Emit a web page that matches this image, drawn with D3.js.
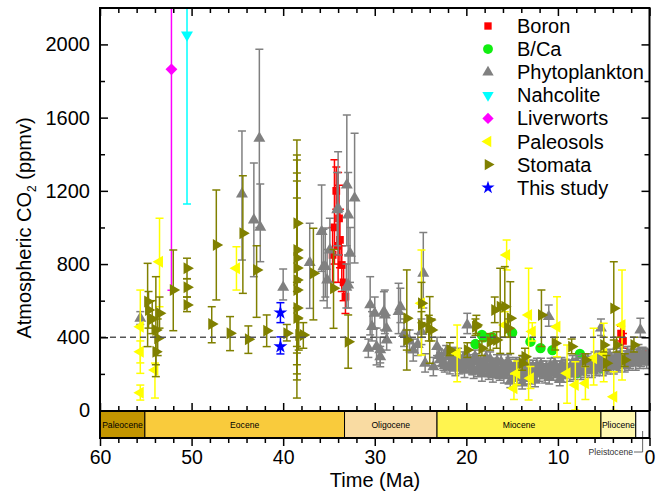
<!DOCTYPE html>
<html>
<head>
<meta charset="utf-8">
<script src="https://cdn.jsdelivr.net/npm/d3@7"></script>
<style>
body{margin:0;background:#fff}
text{font-family:"Liberation Sans",Arial,sans-serif}
</style>
</head>
<body>
<svg id="chart" width="664" height="491"></svg>
<script>
// [age Ma, CO2 ppmv, lower, upper]
const boron = [
  [34.6, 850, 700, 1000], [34.4, 1000, 800, 1370], [34.2, 1200, 1100, 1330],
  [34.0, 900, 700, 1300], [33.9, 1050, 850, 1230], [33.8, 932, 780, 1100],
  [33.6, 795, 650, 900], [33.4, 700, 600, 800], [33.2, 622, 530, 700],
  [3.1, 420, 380, 460], [2.9, 380, 340, 420], [0.7, 305, 285, 325]
]
const bca = [
  [19.0, 363], [18.3, 413], [18.1, 400], [17.2, 400], [15.0, 425], [13.0, 376],
  [11.9, 341], [10.6, 330], [7.9, 205], [7.6, 309], [5.2, 230]
]
const phyto = [
  [55.6, 504, 470, 540], [44.5, 1183, 822, 1527], [43.2, 1041, 731, 1352],
  [42.6, 1487, 1000, 1974], [42.5, 1001, 813, 1238], [40.0, 673, 604, 773],
  [37.1, 808, 558, 1023], [35.8, 977, 760, 1232], [35.6, 786, 600, 990],
  [35.4, 786, 620, 997], [35.2, 713, 560, 880], [34.9, 877, 700, 1050],
  [34.1, 1096, 900, 1300], [34.0, 1105, 850, 1414], [33.05, 1232, 900, 1615],
  [32.9, 1068, 850, 1300], [32.9, 686, 560, 850], [32.7, 859, 700, 1000],
  [32.2, 1160, 806, 1515], [33.1, 673, 560, 800], [30.5, 577, 413, 731],
  [30.0, 531, 450, 620], [30.3, 458, 380, 540], [29.8, 349, 249, 450],
  [29.0, 540, 440, 649], [28.9, 522, 420, 658], [28.7, 449, 380, 520],
  [28.7, 385, 330, 440], [29.4, 331, 260, 400], [29.4, 294, 239, 350],
  [30.7, 340, 290, 390], [27.4, 540, 420, 695], [27.2, 567, 480, 668],
  [26.8, 420, 350, 500], [26.2, 380, 320, 440], [25.8, 330, 270, 390],
  [25.3, 360, 300, 420], [24.7, 750, 560, 972], [24.9, 431, 360, 500],
  [24.5, 258, 210, 310], [23.6, 239, 190, 290], [23.2, 349, 300, 400],
  [22.7, 285, 240, 330], [19.9, 467, 420, 531], [11.0, 513, 460, 577],
  [5.3, 450, 410, 500], [1.0, 440, 400, 504],
  [23.0, 300, 262, 338], [22.5, 260, 220, 300], [22.2, 320, 285, 355],
  [21.8, 240, 200, 280], [21.5, 280, 245, 318], [21.2, 230, 190, 270],
  [20.9, 300, 262, 340], [20.5, 260, 222, 298], [20.2, 220, 180, 262],
  [19.8, 290, 250, 330], [19.5, 250, 212, 290], [19.2, 215, 175, 255],
  [18.9, 270, 232, 310], [18.6, 240, 200, 278], [18.3, 200, 160, 240],
  [18.0, 260, 222, 300], [17.7, 225, 185, 265], [17.4, 280, 242, 320],
  [17.1, 195, 155, 235], [16.8, 245, 205, 285], [16.5, 215, 175, 255],
  [16.2, 265, 225, 305], [15.9, 190, 150, 230], [15.6, 230, 190, 270],
  [15.3, 250, 212, 290], [15.2, 160, 125, 195], [15.0, 205, 165, 245],
  [14.7, 240, 200, 280], [14.4, 180, 140, 220], [14.1, 225, 185, 265],
  [13.9, 150, 118, 185], [13.8, 255, 215, 295], [13.5, 200, 160, 240],
  [13.2, 235, 195, 275], [12.9, 185, 145, 225], [12.6, 220, 180, 260],
  [12.5, 165, 130, 200], [12.3, 245, 205, 285], [12.0, 200, 160, 240],
  [11.7, 230, 190, 270], [11.4, 190, 150, 230], [11.1, 215, 175, 255],
  [10.8, 245, 205, 285], [10.5, 205, 165, 245], [10.2, 230, 190, 270],
  [9.9, 195, 155, 235], [9.8, 170, 135, 205], [9.6, 250, 210, 290],
  [9.3, 215, 175, 255], [9.0, 235, 195, 275], [8.7, 200, 160, 240],
  [8.4, 260, 220, 300], [8.1, 225, 185, 265], [7.8, 245, 205, 285],
  [7.5, 210, 170, 250], [7.2, 270, 230, 310], [6.9, 230, 190, 270],
  [6.6, 255, 215, 295], [6.3, 220, 180, 260], [6.0, 280, 240, 320],
  [5.7, 240, 200, 280], [5.4, 265, 225, 305], [5.1, 230, 190, 270],
  [4.8, 290, 250, 330], [4.5, 250, 210, 290], [4.2, 275, 235, 315],
  [3.9, 240, 200, 280], [3.6, 300, 260, 340], [3.3, 260, 220, 300],
  [3.0, 285, 245, 325], [2.7, 250, 210, 290], [2.4, 310, 270, 350],
  [2.1, 270, 230, 310], [1.8, 295, 255, 335], [1.5, 260, 220, 300],
  [1.2, 320, 280, 360], [0.9, 280, 240, 320], [0.6, 300, 260, 340],
  [0.3, 270, 230, 310], [0.1, 290, 250, 330],
  [22.85, 280, 245, 315], [22.35, 245, 210, 280], [21.95, 295, 260, 330],
  [21.65, 255, 220, 290], [21.35, 310, 275, 345], [21.05, 265, 230, 300],
  [20.75, 235, 200, 270], [20.35, 285, 250, 320], [20.05, 245, 210, 280],
  [19.65, 270, 235, 305], [19.35, 230, 195, 265], [19.05, 295, 260, 330],
  [18.75, 220, 185, 255], [18.45, 265, 230, 300], [18.15, 235, 200, 270],
  [17.85, 290, 255, 325], [17.55, 205, 170, 240], [17.25, 250, 215, 285],
  [16.95, 230, 195, 265], [16.65, 270, 235, 305], [16.35, 200, 165, 235],
  [16.05, 240, 205, 275], [15.75, 215, 180, 250], [15.45, 270, 235, 305],
  [15.15, 225, 190, 260], [14.85, 195, 160, 230], [14.55, 255, 220, 290],
  [14.25, 210, 175, 245], [13.95, 240, 205, 275], [13.65, 180, 145, 215],
  [13.35, 260, 225, 295], [13.05, 215, 180, 250], [12.75, 240, 205, 275],
  [12.45, 200, 165, 235], [12.15, 225, 190, 260], [11.85, 250, 215, 285],
  [11.55, 210, 175, 245], [11.25, 235, 200, 270], [10.95, 180, 145, 215],
  [10.65, 225, 190, 260], [10.35, 255, 220, 290], [10.05, 215, 180, 250],
  [9.75, 235, 200, 270], [9.45, 190, 155, 225], [9.15, 245, 210, 280],
  [8.85, 220, 185, 255], [8.55, 240, 205, 275], [8.25, 205, 170, 240],
  [7.95, 265, 230, 300], [7.65, 235, 200, 270], [7.35, 250, 215, 285],
  [7.05, 215, 180, 250], [6.75, 275, 240, 310], [6.45, 240, 205, 275],
  [6.15, 260, 225, 295], [5.85, 225, 190, 260], [5.55, 290, 255, 325],
  [5.25, 250, 215, 285], [4.95, 270, 235, 305], [4.65, 235, 200, 270],
  [4.35, 300, 265, 335], [4.05, 265, 230, 300], [3.75, 280, 245, 315],
  [3.45, 245, 210, 280], [3.15, 305, 270, 340], [2.85, 265, 230, 300],
  [2.55, 290, 255, 325], [2.25, 255, 220, 290], [1.95, 315, 280, 350],
  [1.65, 280, 245, 315], [1.35, 300, 265, 335], [1.05, 265, 230, 300],
  [0.75, 310, 275, 345], [0.45, 285, 250, 320], [0.2, 300, 265, 335]
]
const nahcolite = [[50.5, 2052, 1128, 3000]]
const liverworts = [[52.2, 1864, 657, 3000]]
const paleosols = [
  [55.6, 458, 203, 658], [55.6, 321, 260, 380], [55.6, 97, 57, 139],
  [54.0, 221, 68, 259], [53.5, 813, 567, 1050], [45.1, 777, 658, 895],
  [24.9, 586, 303, 877], [21.0, 312, 157, 467], [15.6, 850, 768, 932],
  [15.8, 467, 400, 540], [14.8, 121, 60, 200], [14.5, 203, 140, 270],
  [13.2, 522, 57, 777], [13.0, 176, 120, 240], [12.8, 431, 380, 480],
  [10.1, 458, 294, 622], [9.0, 203, 39, 358], [8.1, 139, 3, 267],
  [7.0, 149, 60, 240], [6.1, 285, 139, 449], [5.0, 312, 157, 476],
  [3.9, 75, 0, 212], [3.0, 467, 167, 768]
]
const stomata = [
  [54.8, 595, 349, 804], [54.7, 549, 450, 650], [54.3, 500, 420, 600],
  [53.5, 531, 450, 620], [53.9, 440, 185, 731], [53.7, 395, 300, 500],
  [53.9, 321, 250, 400], [52.0, 658, 436, 877], [50.5, 777, 720, 832],
  [50.5, 673, 620, 720], [50.5, 577, 540, 620], [47.8, 473, 370, 567],
  [47.3, 904, 604, 1205], [45.8, 422, 327, 513], [44.4, 968, 640, 1283],
  [43.8, 389, 312, 462], [42.9, 768, 509, 900], [41.8, 436, 349, 522],
  [39.6, 422, 380, 470], [38.5, 1023, 560, 1478], [38.5, 877, 314, 1396],
  [38.5, 833, 250, 1369], [38.5, 778, 167, 1298], [38.5, 713, 200, 1254],
  [38.5, 658, 68, 1161], [38.5, 560, 400, 700], [38.5, 505, 350, 650],
  [38.3, 413, 330, 500], [37.8, 413, 340, 480], [36.7, 750, 495, 996],
  [34.5, 668, 449, 880], [32.9, 376, 231, 522],
  [26.5, 504, 221, 768], [26.5, 385, 330, 440], [24.9, 586, 480, 700],
  [24.9, 467, 400, 540], [24.1, 449, 380, 520], [24.0, 495, 258, 622],
  [23.8, 440, 380, 500], [21.8, 331, 300, 370], [19.9, 331, 290, 370],
  [19.0, 458, 410, 500], [18.9, 467, 420, 520], [18.3, 340, 300, 380],
  [17.4, 376, 330, 420], [16.9, 549, 480, 620], [16.7, 385, 340, 430],
  [16.3, 567, 312, 777], [15.8, 567, 400, 786], [15.2, 504, 312, 704],
  [15.4, 449, 400, 500], [13.9, 258, 220, 300], [13.6, 294, 250, 340],
  [11.8, 522, 349, 658], [10.3, 367, 330, 400], [8.5, 349, 310, 390],
  [7.0, 276, 240, 310], [5.0, 358, 320, 400], [4.7, 258, 220, 300],
  [3.9, 558, 385, 813], [3.6, 358, 320, 400], [2.7, 276, 240, 310],
  [1.7, 358, 320, 400]
]
const thisStudy = [[40.3, 534, 480, 589], [40.3, 349, 309, 402]]

const epochNames = ['Paleocene', 'Eocene', 'Oligocene', 'Miocene', 'Pliocene', 'Pleistocene']
const epochOld = [60, 55.1, 33.3, 23.2, 5.3, 1.5]
const epochYoung = [55.1, 33.3, 23.2, 5.3, 1.5, 0]
const epochColors = ['#c39500', '#f9cb3c', '#f9dba2', '#fff44f', '#fff8b0', '#ffffff']

const xMajor = [60, 50, 40, 30, 20, 10, 0]
const yMajor = [0, 400, 800, 1200, 1600, 2000]
const refLevel = 400

const svg = d3.select('#chart')
const L = 100, R = 649.5, T = 8, B = 411, BB = 438

const x = d3.scaleLinear().domain([60, 0]).range([L, R])
const y = d3.scaleLinear().domain([0, 2200]).range([410.5, 7.8])

const xMinor = d3.range(58, 0, -2).filter(d => d % 10 != 0)
const yMinor = [200, 600, 1000, 1400, 1800]

const series = [
  {name: 'Boron', data: boron, color: '#ff0000', type: d3.symbolSquare, size: 60, rot: 0},
  {name: 'B/Ca', data: bca, color: '#11ee11', type: d3.symbolCircle, size: 85, rot: 0},
  {name: 'Phytoplankton', data: phyto, color: '#808080', type: d3.symbolTriangle, size: 62, rot: 0},
  {name: 'Nahcolite', data: nahcolite, color: '#00ffff', type: d3.symbolTriangle, size: 62, rot: 180},
  {name: 'Liverworts', data: liverworts, color: '#ff00ff', type: d3.symbolSquare, size: 70, rot: 45},
  {name: 'Paleosols', data: paleosols, color: '#ffff00', type: d3.symbolTriangle, size: 62, rot: -90},
  {name: 'Stomata', data: stomata, color: '#808000', type: d3.symbolTriangle, size: 62, rot: 90},
  {name: 'This study', data: thisStudy, color: '#0000ff', type: d3.symbolStar, size: 60, rot: 0}
]

svg.append('clipPath').attr('id', 'plotclip')
  .append('rect').attr('x', L).attr('y', T).attr('width', R - L).attr('height', B - T)

const plot = svg.append('g').attr('clip-path', 'url(#plotclip)')

// Points + error bars
series.forEach(s => {
  const g = plot.append('g')
  s.data.forEach(d => {
    const lo = d[2] ?? d[1], hi = d[3] ?? d[1]
    if (lo == hi) return
    const px = x(d[0])
    g.append('line').attr('x1', px).attr('x2', px).attr('y1', y(lo)).attr('y2', y(hi))
      .attr('stroke', s.color).attr('stroke-width', 1.5)
    ;[lo, hi].forEach(v => {
      g.append('line').attr('x1', px - 4).attr('x2', px + 4).attr('y1', y(v)).attr('y2', y(v))
        .attr('stroke', s.color).attr('stroke-width', 1.5)
    })
  })
  g.selectAll('path.pt').data(s.data).enter().append('path')
    .attr('class', 'pt')
    .attr('d', d3.symbol().type(s.type).size(s.size))
    .attr('transform', d => `translate(${x(d[0])},${y(d[1])}) rotate(${s.rot})`)
    .attr('fill', s.color)
})

// 400 ppmv reference
plot.append('line')
  .attr('x1', L).attr('x2', R).attr('y1', y(refLevel)).attr('y2', y(refLevel))
  .attr('stroke', '#555').attr('stroke-width', 1.5).attr('stroke-dasharray', '6,4')

// Epoch band
const band = svg.append('g')
epochNames.forEach((n, i) => {
  band.append('rect')
    .attr('x', x(epochOld[i])).attr('y', B)
    .attr('width', x(epochYoung[i]) - x(epochOld[i])).attr('height', BB - B)
    .attr('fill', epochColors[i]).attr('stroke', 'black').attr('stroke-width', 1)
  if (n != 'Pleistocene') {
    band.append('text')
      .attr('x', (x(epochOld[i]) + x(epochYoung[i])) / 2).attr('y', (B + BB) / 2 + 3)
      .attr('text-anchor', 'middle').attr('font-size', 8.6).text(n)
  }
})
const pl = epochNames.length - 1
const plx = (x(epochOld[pl]) + x(epochYoung[pl])) / 2
band.append('path')
  .attr('d', `M${plx},${B + 20}V452H634`)
  .attr('fill', 'none').attr('stroke', '#666').attr('stroke-width', 1)
band.append('text').attr('x', 633).attr('y', 455).attr('text-anchor', 'end')
  .attr('font-size', 8.6).attr('fill', '#333').text(epochNames[pl])

// Axes
function clean(g, fs) {
  g.select('.domain').remove()
  g.selectAll('line').attr('stroke-width', 1.5)
  g.selectAll('text').attr('font-family', '"Liberation Sans",Arial,sans-serif').attr('font-size', fs || 20).attr('fill', 'black')
}
svg.append('g').attr('transform', `translate(0,${T})`)
  .call(d3.axisBottom(x).tickValues(xMajor).tickSize(8).tickFormat('')).call(clean)
svg.append('g').attr('transform', `translate(0,${T})`)
  .call(d3.axisBottom(x).tickValues(xMinor).tickSize(5).tickFormat('')).call(clean)
svg.append('g').attr('transform', `translate(0,${B})`)
  .call(d3.axisTop(x).tickValues(xMajor).tickSize(8).tickFormat('')).call(clean)
svg.append('g').attr('transform', `translate(0,${B})`)
  .call(d3.axisTop(x).tickValues(xMinor).tickSize(5).tickFormat('')).call(clean)
svg.append('g').attr('transform', `translate(0,${BB})`)
  .call(d3.axisBottom(x).tickValues(xMajor).tickSize(8).tickPadding(4).tickFormat(d3.format('d'))).call(clean, 19.5)
svg.append('g').attr('transform', `translate(0,${BB})`)
  .call(d3.axisBottom(x).tickValues(xMinor).tickSize(5).tickFormat('')).call(clean)

svg.append('g').attr('transform', `translate(${L},0)`)
  .call(d3.axisLeft(y).tickValues(yMajor).tickSize(-8).tickPadding(10).tickFormat(d3.format('d'))).call(clean)
svg.append('g').attr('transform', `translate(${L},0)`)
  .call(d3.axisLeft(y).tickValues(yMinor).tickSize(-5).tickFormat('')).call(clean)
svg.append('g').attr('transform', `translate(${R},0)`)
  .call(d3.axisLeft(y).tickValues(yMajor).tickSize(8).tickFormat('')).call(clean)
svg.append('g').attr('transform', `translate(${R},0)`)
  .call(d3.axisLeft(y).tickValues(yMinor).tickSize(5).tickFormat('')).call(clean)

// Frame
svg.append('path')
  .attr('d', `M${L},${T}H${R}V${BB}H${L}Z M${L},${B}H${R}`)
  .attr('fill', 'none').attr('stroke', 'black').attr('stroke-width', 2)

// Axis titles
svg.append('text').attr('x', 375).attr('y', 487).attr('text-anchor', 'middle')
  .attr('font-size', 20).text('Time (Ma)')
const yt = svg.append('text').attr('transform', 'translate(31,228) rotate(-90)')
  .attr('text-anchor', 'middle').attr('font-size', 20)
yt.append('tspan').text('Atmospheric CO')
yt.append('tspan').attr('dy', 5).attr('font-size', 12).text('2')
yt.append('tspan').attr('dy', -5).text(' (ppmv)')

// Legend
const leg = svg.append('g')
series.forEach((s, i) => {
  const ly = 26 + i * 23.1
  leg.append('path')
    .attr('d', d3.symbol().type(s.type).size(s.size * 0.9))
    .attr('transform', `translate(488,${ly}) rotate(${s.rot})`)
    .attr('fill', s.color)
  leg.append('text').attr('x', 517).attr('y', ly + 7).attr('font-size', 20).text(s.name)
})
</script>
</body>
</html>
